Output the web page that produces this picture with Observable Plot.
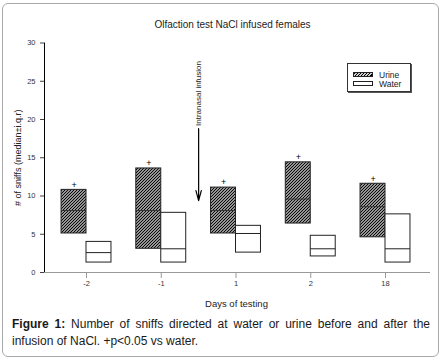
<!DOCTYPE html>
<html><head><meta charset="utf-8">
<script src="https://cdn.jsdelivr.net/npm/d3@7"></script>
<script src="https://cdn.jsdelivr.net/npm/@observablehq/plot@0.6"></script>
<style>
body{margin:0;background:#fff;font-family:"Liberation Sans",Arial,sans-serif;}
#fig{position:relative;width:442px;height:360px;overflow:hidden;}
#frame{position:absolute;left:2px;top:3px;width:437px;height:354px;border:1px solid #aaa;border-radius:6px;box-sizing:border-box;}
#chart{position:absolute;left:0;top:0;}
#legend{position:absolute;left:347px;top:63px;width:64px;height:29px;border:1px solid #333;box-shadow:1px 1px 0 #555;background:#fff;box-sizing:border-box;font-size:8.5px;color:#222;}
.row{position:absolute;left:5px;display:flex;align-items:center;height:9px;}
.sw{width:20px;height:5px;border:1px solid #222;box-sizing:border-box;margin-right:6px;}
.hatch{background:repeating-linear-gradient(135deg,#000 0 1px,#ccc 1px 2.2px);}
.cap{position:absolute;left:12px;width:418px;font-size:12px;line-height:17px;color:#1a1a1a;white-space:nowrap;}
#cap1{top:316px;text-align:justify;text-align-last:justify;white-space:normal;}
#cap2{top:333px;}
</style></head>
<body>
<div id="fig">
<div id="frame"></div>
<div id="chart"></div>
<div id="legend">
  <div class="row" style="top:6px"><div class="sw hatch"></div><span>Urine</span></div>
  <div class="row" style="top:15px"><div class="sw"></div><span>Water</span></div>
</div>
<div class="cap" id="cap1"><b>Figure 1:</b> Number of sniffs directed at water or urine before and after the</div>
<div class="cap" id="cap2">infusion of NaCl. +p&lt;0.05 vs water.</div>
</div>
<script>
const days = ["-2", "-1", "1", "2", "18"];
const urineQ1 = [5.1, 3.1, 5.1, 6.4, 4.6];
const urineMedian = [8.1, 8.1, 8.1, 9.6, 8.6];
const urineQ3 = [10.8, 13.6, 11.1, 14.4, 11.6];
const waterQ1 = [1.3, 1.3, 2.6, 2.1, 1.3];
const waterMedian = [2.6, 3.1, 5.1, 3.1, 3.1];
const waterQ3 = [4.0, 7.8, 6.1, 4.8, 7.6];
const significant = [true, true, true, true, true];
const yTicks = [0, 5, 10, 15, 20, 25, 30];
const infusion = [{x: 1.5, y1: 18.8, y2: 9.4, labelY: 23.4, label: "Intranasal infusion"}];
const title = "Olfaction test NaCl infused females";
const xLabel = "Days of testing";
const yLabel = "# of sniffs (median\u00b1i.q.r)";

const w = 0.334;
const idx = days.map((d, i) => i);
const urine = idx.map(i => ({i, x1: i - w, x2: i, q1: urineQ1[i], med: urineMedian[i], q3: urineQ3[i], sig: significant[i]}));
const water = idx.map(i => ({i, x1: i, x2: i + w, q1: waterQ1[i], med: waterMedian[i], q3: waterQ3[i]}));
const xDomain = [-0.562, 4.602];

const chart = Plot.plot({
  width: 442, height: 310,
  marginLeft: 44, marginRight: 12, marginTop: 42.5, marginBottom: 38,
  style: {fontFamily: "Liberation Sans, Arial, sans-serif", background: "transparent", color: "#222"},
  x: {domain: xDomain},
  y: {domain: [0, 30]},
  marks: [
    Plot.ruleY([0], {stroke: "#999", strokeWidth: 1.2}),
    Plot.ruleX([xDomain[0]], {y1: 0, y2: 30, stroke: "#000"}),
    Plot.axisX({ticks: idx, tickFormat: i => days[i], tickSize: 6, tickPadding: 2, fontSize: 7.5, stroke: "#999", fill: "#333"}),
    Plot.axisY({ticks: yTicks, tickSize: 4, tickPadding: 5, fontSize: 7.5, stroke: "#444", fill: "#333"}),
    Plot.rect(urine, {x1: "x1", x2: "x2", y1: "q1", y2: "q3", fill: "url(#hatch)", stroke: "#222", strokeWidth: 1}),
    Plot.ruleY(urine, {x1: "x1", x2: "x2", y: "med", stroke: "#333", strokeWidth: 1}),
    Plot.rect(water, {x1: "x1", x2: "x2", y1: "q1", y2: "q3", fill: "#fff", stroke: "#222", strokeWidth: 1}),
    Plot.ruleY(water, {x1: "x1", x2: "x2", y: "med", stroke: "#222", strokeWidth: 1}),
    Plot.text(urine.filter(d => d.sig), {x: d => d.i - w / 2, y: "q3", text: () => "+", dy: -5, fontSize: 9, fill: "#000"}),
    Plot.arrow(infusion, {x: "x", y1: "y1", y2: "y2", headLength: 13, headAngle: 30, stroke: "#000", strokeWidth: 1.2}),
    Plot.text(infusion, {x: "x", y: "labelY", text: "label", rotate: -90, fontSize: 8, fill: "#222"}),
    Plot.text([title], {frameAnchor: "top", lineAnchor: "middle", dy: -18.5, dx: -5, fontSize: 10, fill: "#222"}),
    Plot.text([xLabel], {frameAnchor: "bottom", lineAnchor: "middle", dy: 31, dx: -1, fontSize: 9.5, fill: "#222"}),
    Plot.text([yLabel], {frameAnchor: "left", textAnchor: "middle", lineAnchor: "middle", dx: -26, rotate: -90, fontSize: 9, fill: "#222"})
  ]
});

const defs = d3.select(chart).insert("defs", ":first-child");
const pat = defs.append("pattern").attr("id", "hatch").attr("patternUnits", "userSpaceOnUse").attr("width", 3).attr("height", 3);
pat.append("rect").attr("width", 3).attr("height", 3).attr("fill", "#d0d0d0");
pat.append("path").attr("d", "M-1,1 l2,-2 M0,3 l3,-3 M2,4 l2,-2").attr("stroke", "#000").attr("stroke-width", 1.1);

document.getElementById("chart").appendChild(chart);
</script>
</body></html>
